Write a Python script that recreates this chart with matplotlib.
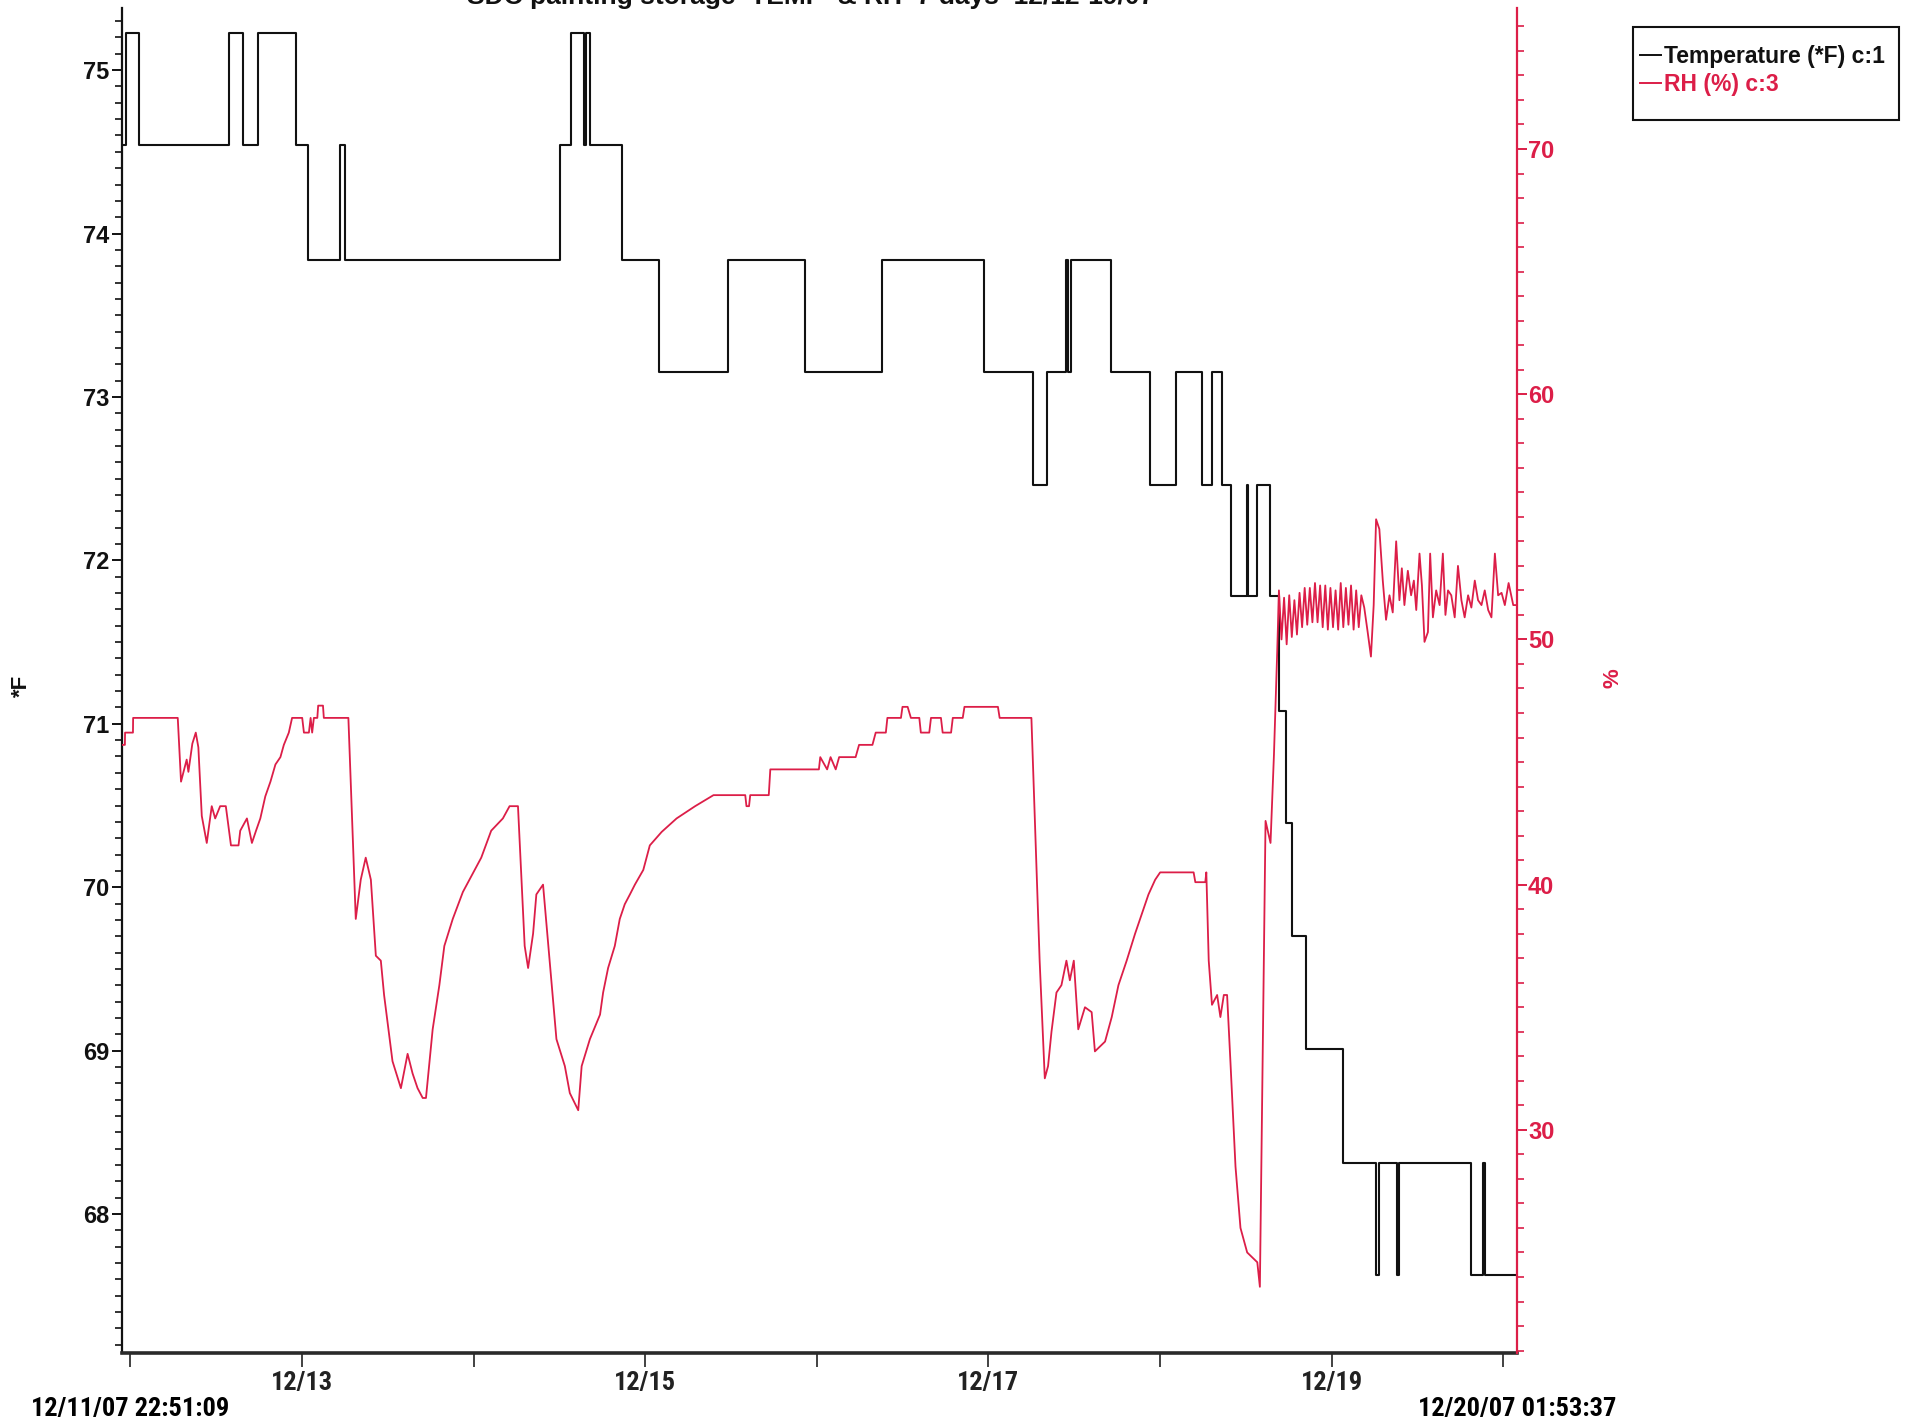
import matplotlib
matplotlib.use("Agg")
import matplotlib.pyplot as plt
import matplotlib.dates as mdates
import pandas as pd
import numpy as np
from matplotlib.ticker import MultipleLocator, FuncFormatter
from matplotlib.patches import Rectangle
from matplotlib.lines import Line2D
from matplotlib import font_manager as fm

# ---------------- data (days since 2007-12-12 00:00) ----------------
BASE = "2007-12-12 00:00:00"
START = "2007-12-11 22:51:09"
END = "2007-12-20 01:53:37"

title = "SDC painting storage  TEMP  & RH  7 days  12/12-19/07"

# Temperature (*F): change times (days) and values (step series)
temp_day = [-0.0478, -0.023, 0.05, 0.573, 0.658, 0.744, 0.964, 1.036, 1.221, 1.249,
            2.502, 2.566, 2.644, 2.658, 2.680, 2.865, 3.078, 3.484, 3.932, 4.381,
            4.972, 5.262, 5.340, 5.454, 5.465, 5.478, 5.712, 5.940, 6.090, 6.245,
            6.300, 6.362, 6.415, 6.505, 6.513, 6.562, 6.642, 6.692, 6.735, 6.766,
            6.848, 7.068, 7.258, 7.277, 7.380, 7.394, 7.813, 7.881, 7.895, 8.0789]
temp_val = [74.54, 75.23, 74.54, 75.23, 74.54, 75.23, 74.54, 73.84, 74.54, 73.84,
            74.54, 75.23, 74.54, 75.23, 74.54, 73.84, 73.15, 73.84, 73.15, 73.84,
            73.15, 72.46, 73.15, 73.84, 73.15, 73.84, 73.15, 72.46, 73.15, 72.46,
            73.15, 72.46, 71.78, 72.46, 71.78, 72.46, 71.78, 71.08, 70.39, 69.70,
            69.01, 68.31, 67.63, 68.31, 67.63, 68.31, 67.63, 68.31, 67.63, 67.63]

# Relative humidity (%)
rh_day = [-0.0478, -0.031, -0.030, 0.016, 0.017, 0.277, 0.296, 0.329, 0.339, 0.362,
          0.382, 0.397, 0.417, 0.446, 0.475, 0.495, 0.524, 0.557, 0.587, 0.631,
          0.641, 0.680, 0.709, 0.733, 0.758, 0.787, 0.817, 0.846, 0.875, 0.895,
          0.924, 0.943, 1.002, 1.012, 1.041, 1.051, 1.060, 1.070, 1.090, 1.095,
          1.123, 1.128, 1.271, 1.314, 1.343, 1.372, 1.402, 1.431, 1.460, 1.479,
          1.528, 1.577, 1.616, 1.645, 1.674, 1.704, 1.723, 1.762, 1.801, 1.830,
          1.879, 1.938, 2.045, 2.103, 2.171, 2.210, 2.259, 2.298, 2.318, 2.347,
          2.366, 2.405, 2.483, 2.532, 2.561, 2.610, 2.630, 2.678, 2.737, 2.755,
          2.784, 2.823, 2.852, 2.881, 2.911, 2.940, 2.989, 3.027, 3.096, 3.183,
          3.291, 3.398, 3.583, 3.590, 3.605, 3.612, 3.720, 3.729, 4.012, 4.020,
          4.060, 4.080, 4.110, 4.130, 4.226, 4.246, 4.324, 4.343, 4.402, 4.411,
          4.490, 4.499, 4.529, 4.548, 4.597, 4.606, 4.655, 4.665, 4.723, 4.733,
          4.782, 4.792, 4.850, 4.860, 5.055, 5.065, 5.250, 5.298, 5.328, 5.347,
          5.367, 5.396, 5.425, 5.454, 5.474, 5.497, 5.523, 5.562, 5.601, 5.620,
          5.679, 5.718, 5.757, 5.805, 5.854, 5.903, 5.932, 5.971, 6.000, 6.195,
          6.205, 6.263, 6.269, 6.283, 6.302, 6.332, 6.351, 6.371, 6.390, 6.410,
          6.439, 6.468, 6.507, 6.566, 6.581, 6.614, 6.643, 6.663, 6.682, 6.692,
          6.707, 6.722, 6.737, 6.752, 6.767, 6.782, 6.797, 6.812, 6.827, 6.842,
          6.857, 6.872, 6.887, 6.902, 6.917, 6.932, 6.947, 6.962, 6.977, 6.992,
          7.007, 7.022, 7.037, 7.052, 7.067, 7.082, 7.097, 7.112, 7.127, 7.142,
          7.157, 7.172, 7.189, 7.209, 7.228, 7.244, 7.258, 7.277, 7.297, 7.316,
          7.336, 7.355, 7.375, 7.394, 7.408, 7.423, 7.443, 7.462, 7.478, 7.492,
          7.511, 7.525, 7.540, 7.560, 7.573, 7.589, 7.608, 7.628, 7.647, 7.662,
          7.677, 7.696, 7.716, 7.735, 7.755, 7.774, 7.794, 7.813, 7.833, 7.852,
          7.872, 7.891, 7.911, 7.930, 7.950, 7.969, 7.989, 8.008, 8.030, 8.057,
          8.0789]
rh_val = [45.7, 45.7, 46.2, 46.2, 46.8, 46.8, 44.2, 45.1, 44.6, 45.75,
          46.2, 45.6, 42.8, 41.7, 43.2, 42.7, 43.2, 43.2, 41.6, 41.6,
          42.2, 42.7, 41.7, 42.2, 42.7, 43.6, 44.2, 44.9, 45.2, 45.7,
          46.2, 46.8, 46.8, 46.2, 46.2, 46.8, 46.2, 46.8, 46.8, 47.3,
          47.3, 46.8, 46.8, 38.6, 40.2, 41.1, 40.2, 37.1, 36.9, 35.5,
          32.8, 31.7, 33.1, 32.3, 31.7, 31.3, 31.3, 34.1, 35.9, 37.5,
          38.6, 39.7, 41.1, 42.2, 42.7, 43.2, 43.2, 37.5, 36.6, 38.0,
          39.6, 40.0, 33.7, 32.6, 31.5, 30.8, 32.6, 33.7, 34.7, 35.6,
          36.6, 37.5, 38.6, 39.2, 39.6, 40.0, 40.6, 41.6, 42.15, 42.7,
          43.2, 43.65, 43.65, 43.2, 43.2, 43.65, 43.65, 44.7, 44.7, 45.2,
          44.7, 45.2, 44.7, 45.2, 45.2, 45.7, 45.7, 46.2, 46.2, 46.8,
          46.8, 47.25, 47.25, 46.8, 46.8, 46.2, 46.2, 46.8, 46.8, 46.2,
          46.2, 46.8, 46.8, 47.25, 47.25, 46.8, 46.8, 36.9, 32.1, 32.6,
          34.0, 35.6, 35.9, 36.9, 36.1, 36.9, 34.1, 35.0, 34.8, 33.2,
          33.6, 34.6, 35.9, 36.9, 38.0, 39.0, 39.6, 40.2, 40.5, 40.5,
          40.1, 40.1, 40.5, 36.9, 35.1, 35.5, 34.6, 35.5, 35.5, 32.7,
          28.5, 26.0, 25.0, 24.6, 23.6, 42.6, 41.7, 45.3, 49.5, 52.0,
          50.0, 51.7, 49.8, 51.8, 50.1, 51.6, 50.2, 51.9, 50.5, 52.1,
          50.6, 52.1, 50.7, 52.3, 50.7, 52.2, 50.5, 52.2, 50.4, 52.1,
          50.5, 52.0, 50.4, 52.3, 50.5, 52.1, 50.6, 52.2, 50.4, 52.0,
          50.5, 51.8, 51.3, 50.3, 49.3, 51.4, 54.9, 54.5, 52.4, 50.8,
          51.8, 51.1, 54.0, 51.6, 52.9, 51.4, 52.8, 51.8, 52.4, 51.2,
          53.5, 52.2, 49.9, 50.3, 53.5, 50.9, 52.0, 51.4, 53.5, 51.0,
          52.0, 51.8, 50.9, 53.0, 51.6, 50.9, 51.8, 51.3, 52.4, 51.6,
          51.4, 52.0, 51.2, 50.9, 53.5, 51.8, 51.9, 51.4, 52.3, 51.4,
          51.4]

# tick settings
temp_major = [68, 69, 70, 71, 72, 73, 74, 75]
rh_major = [30, 40, 50, 60, 70]
x_labeled_days = [13, 15, 17, 19]

legend_labels = ["Temperature (*F) c:1", "RH (%) c:3"]

# ---------------- styles ----------------
RED = "#dc1e48"
BLACK = "#111111"
FONT = ["Liberation Sans", "DejaVu Sans"]
plt.rcParams["font.family"] = FONT

# look for a condensed bold face for the time axis
narrow_fp = None
cands = []
for f in fm.fontManager.ttflist:
    nm = (f.name + " " + f.fname).lower()
    if ("narrow" in nm or "condensed" in nm or str(f.stretch) in ("condensed", "semi-condensed", "75", "87", "62", "50")) \
            and f.weight in ("bold", 700, "demibold", 600, "semibold"):
        cands.append(f)
cands.sort(key=lambda f: (0 if "liberation" in f.fname.lower() else
                          1 if "roboto" in f.fname.lower() else
                          2 if "open" in f.fname.lower() else 3))
if cands:
    narrow_fp = fm.FontProperties(fname=cands[0].fname)
XSIZE = 19 if narrow_fp is not None else 16

def xfont(size):
    if narrow_fp is not None:
        fp = narrow_fp.copy()
        fp.set_size(size)
        return fp
    return fm.FontProperties(family=FONT, weight="bold", size=size)

base = pd.Timestamp(BASE)
t_temp = base + pd.to_timedelta(temp_day, unit="D")
t_rh = base + pd.to_timedelta(rh_day, unit="D")

W, H = 1913, 1425
fig = plt.figure(figsize=(W / 100, H / 100), dpi=100)
L, R, B, T = 122, 1517, 1353, 8
ax = fig.add_axes([L / W, 1 - B / H, (R - L) / W, (B - T) / H])
ax2 = ax.twinx()

ax.plot(t_temp, temp_val, color=BLACK, lw=1.5, drawstyle="steps-post", zorder=3)
ax2.plot(t_rh, rh_val, color=RED, lw=1.3, zorder=3)

ax.set_xlim(pd.Timestamp(START), pd.Timestamp(END))
ax.set_ylim(67.15, 75.38)
ax2.set_ylim(20.9, 75.75)

# spines
for s in ["top", "right"]:
    ax.spines[s].set_visible(False)
for s in ["top", "left", "bottom"]:
    ax2.spines[s].set_visible(False)
ax.spines["left"].set_color(BLACK)
ax.spines["left"].set_linewidth(1.6)
ax.spines["bottom"].set_color("#2a2a2a")
ax.spines["bottom"].set_linewidth(2.6)
ax2.spines["right"].set_color(RED)
ax2.spines["right"].set_linewidth(1.6)

# left y axis
ax.yaxis.set_major_locator(plt.FixedLocator(temp_major))
ax.yaxis.set_minor_locator(MultipleLocator(0.1))
ax.tick_params(axis="y", which="major", length=7, width=1.4, pad=2,
               labelsize=17, colors=BLACK)
ax.tick_params(axis="y", which="minor", length=5, width=1.2, colors=BLACK)
for lab in ax.get_yticklabels():
    lab.set_fontweight("bold")

# right y axis
ax2.yaxis.set_major_locator(plt.FixedLocator(rh_major))
ax2.yaxis.set_minor_locator(MultipleLocator(1))
ax2.tick_params(axis="y", which="major", length=7, width=1.4, pad=1,
                labelsize=17, colors=RED)
ax2.tick_params(axis="y", which="minor", length=5, width=1.2, colors=RED)
for lab in ax2.get_yticklabels():
    lab.set_fontweight("bold")

# x axis
ax.xaxis.set_major_locator(mdates.DayLocator())
def xfmt(v, pos):
    d = mdates.num2date(v)
    return d.strftime("%m/%d") if d.day in x_labeled_days else ""
ax.xaxis.set_major_formatter(FuncFormatter(xfmt))
ax.tick_params(axis="x", which="major", length=10, width=1.2, pad=3,
               colors="#222222")
for lab in ax.get_xticklabels():
    lab.set_fontproperties(xfont(XSIZE))

for label, when, dx in [("12/11/07 22:51:09", START, 8), ("12/20/07 01:53:37", END, 0)]:
    ax.annotate(label, xy=(pd.Timestamp(when), 0),
                xycoords=("data", "axes fraction"), xytext=(dx, -56),
                textcoords="offset pixels", ha="center", va="center",
                fontproperties=xfont(XSIZE))

# axis labels
fig.text(21 / W, 1 - 686 / H, "*F", rotation=90, ha="center", va="center",
         fontsize=16, fontweight="bold", color=BLACK)
fig.text(1613 / W, 1 - 678 / H, "%", rotation=90, ha="center", va="center",
         fontsize=16, fontweight="bold", color=RED)

# title (cut at top as in the scan)
fig.text(811 / W, 1 - 4 / H, title, ha="center", va="baseline",
         fontsize=19, fontweight="bold", color=BLACK)

# legend box
fig.patches.append(Rectangle((1633 / W, 1 - 120 / H), 266 / W, 93 / H,
                             transform=fig.transFigure, fill=False,
                             edgecolor=BLACK, lw=1.5))
handles = [Line2D([], [], color=BLACK, lw=1.4), Line2D([], [], color=RED, lw=1.4)]
leg = fig.legend(handles, legend_labels, loc="upper left",
                 bbox_to_anchor=(1640 / W, 1 - 45 / H), frameon=False,
                 handlelength=0.9, handletextpad=0.15, labelspacing=0.2,
                 borderpad=0, borderaxespad=0,
                 prop={"family": FONT, "weight": "bold", "size": 16.5})
for txt, c in zip(leg.get_texts(), [BLACK, RED]):
    txt.set_color(c)

fig.savefig("out.png", dpi=100, facecolor="white")
